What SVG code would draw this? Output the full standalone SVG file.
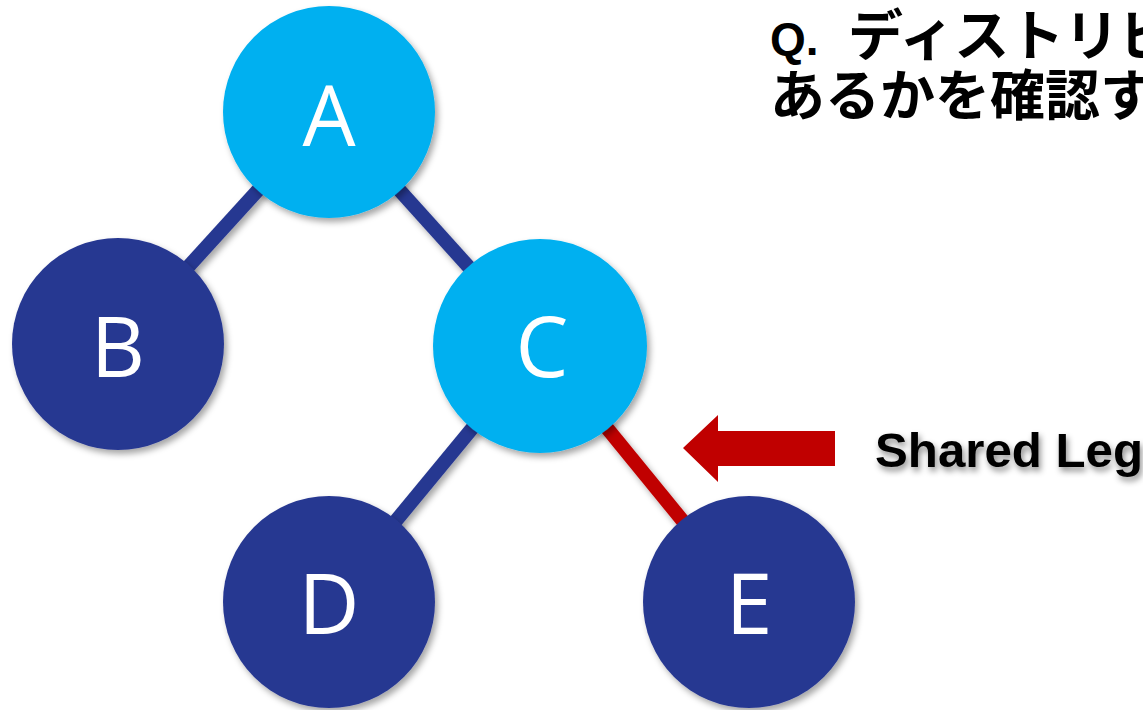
<svg xmlns="http://www.w3.org/2000/svg" width="1143" height="710" viewBox="0 0 1143 710">
  <defs>
    <filter id="sh" x="-20%" y="-20%" width="150%" height="150%">
      <feDropShadow dx="3" dy="4" stdDeviation="3" flood-color="#000" flood-opacity="0.35"/>
    </filter>
    <filter id="tsh" x="-10%" y="-30%" width="130%" height="180%">
      <feDropShadow dx="2" dy="4" stdDeviation="3" flood-color="#000" flood-opacity="0.45"/>
    </filter>
    <style>
      .edge { stroke: #283891; stroke-width: 14; stroke-linecap: butt; }
      .shared { stroke: #C00000; }
      .light { fill: #00B0F0; }
      .dark { fill: #283891; }
      .lbl { fill: #ffffff; font-family: "Open Sans", "Liberation Sans", sans-serif; font-size: 84px; text-anchor: middle; }
      .title { font-family: "Liberation Sans", "Noto Sans CJK JP", sans-serif; font-weight: 700; font-size: 55px; fill: #000; }
    </style>
  </defs>
  <rect width="1143" height="710" fill="#ffffff"/>

  <g id="connectors" filter="url(#sh)">
    <line class="edge" x1="329" y1="112" x2="118" y2="344"/>
    <line class="edge" x1="329" y1="112" x2="540" y2="346"/>
    <line class="edge" x1="540" y1="346" x2="329" y2="602"/>
    <line class="edge shared" x1="540" y1="346" x2="749" y2="602"/>
  </g>

  <g id="node-A" filter="url(#sh)">
    <circle class="light" cx="329" cy="112" r="106"/>
    <text class="lbl" x="329" y="146">A</text>
  </g>
  <g id="node-B" filter="url(#sh)">
    <circle class="dark" cx="118" cy="344" r="106"/>
    <text class="lbl" x="118" y="377">B</text>
  </g>
  <g id="node-C" filter="url(#sh)">
    <circle class="light" cx="540" cy="346" r="107"/>
    <text class="lbl" x="542" y="377">C</text>
  </g>
  <g id="node-D" filter="url(#sh)">
    <circle class="dark" cx="329" cy="602" r="106"/>
    <text class="lbl" x="329" y="634">D</text>
  </g>
  <g id="node-E" filter="url(#sh)">
    <circle class="dark" cx="749" cy="602" r="106"/>
    <text class="lbl" x="749" y="634">E</text>
  </g>

  <g id="shared-leg-label">
    <polygon points="683,448 718,415 718,431 835,431 835,466 718,466 718,482" fill="#C00000"/>
    <text x="875" y="467" filter="url(#tsh)" font-family="'Liberation Sans', sans-serif" font-weight="700" font-size="48" textLength="268" lengthAdjust="spacingAndGlyphs" fill="#000">Shared Leg</text>
  </g>

  <g id="title">
    <text class="title" x="770" y="55"><tspan font-size="46">Q.</tspan><tspan x="848">ディストリビ</tspan></text>
    <text class="title" x="770" y="115">あるかを確認す</text>
  </g>
</svg>
